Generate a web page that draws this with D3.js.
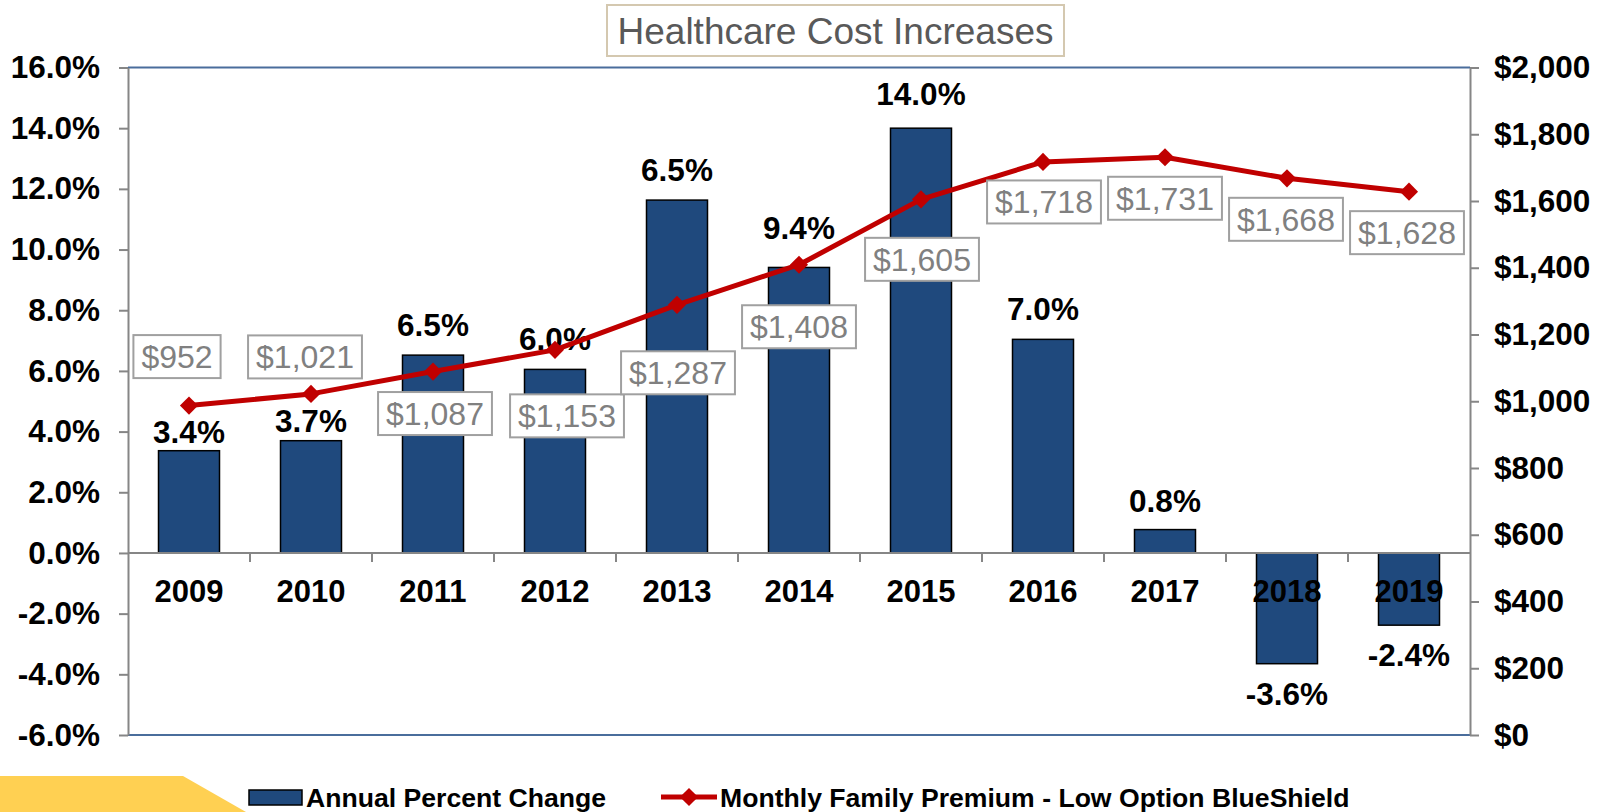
<!DOCTYPE html>
<html>
<head>
<meta charset="utf-8">
<script src="https://cdn.jsdelivr.net/npm/d3@7"></script>
<style>
  body { margin: 0; background: #fff; }
  svg { display: block; font-family: "Liberation Sans", Arial, sans-serif; }
</style>
</head>
<body>
<script>
// data
var years = ["2009", "2010", "2011", "2012", "2013", "2014", "2015", "2016", "2017", "2018", "2019"];
var pctChange = [3.37, 3.7, 6.52, 6.05, 11.63, 9.41, 14.0, 7.04, 0.77, -3.65, -2.38];
var pctLabels = ["3.4%", "3.7%", "6.5%", "6.0%", "6.5%", "9.4%", "14.0%", "7.0%", "0.8%", "-3.6%", "-2.4%"];
var premium = [987, 1022, 1089, 1154, 1289, 1409, 1605, 1717, 1731, 1668, 1628];
var premiumLabels = ["$952", "$1,021", "$1,087", "$1,153", "$1,287", "$1,408", "$1,605", "$1,718", "$1,731", "$1,668", "$1,628"];
var leftTicks = [-6, -4, -2, 0, 2, 4, 6, 8, 10, 12, 14, 16];
var rightTicks = [0, 200, 400, 600, 800, 1000, 1200, 1400, 1600, 1800, 2000];
var titleText = "Healthcare Cost Increases";
var seriesNames = ["Annual Percent Change", "Monthly Family Premium - Low Option BlueShield"];

var W = 1607, H = 812;
var plotLeft = 128, plotRight = 1470, plotTop = 67.5, plotBottom = 735;

var svg = d3.select("body").append("svg")
    .attr("width", W)
    .attr("height", H);

var x = d3.scaleBand()
    .domain(years)
    .range([plotLeft, plotRight])
    .paddingInner(0.5)
    .paddingOuter(0.25);

var yL = d3.scaleLinear().domain([-6, 16]).range([plotBottom, plotTop]);
var yR = d3.scaleLinear().domain([0, 2000]).range([plotBottom, plotTop]);

// yellow corner shape
svg.append("path")
    .attr("d", "M0,776 L183,776 L246,812 L0,812 Z")
    .attr("fill", "#ffd052");

// title box
var tg = svg.append("g");
tg.append("rect")
    .attr("x", 607).attr("y", 5)
    .attr("width", 457).attr("height", 51)
    .attr("fill", "#fff")
    .attr("stroke", "#d4c8b0")
    .attr("stroke-width", 2);
tg.append("text")
    .attr("x", 835.5).attr("y", 44)
    .attr("text-anchor", "middle")
    .attr("font-size", 37)
    .attr("fill", "#595959")
    .text(titleText);

// bars
svg.selectAll(".bar")
    .data(pctChange)
    .enter()
    .append("rect")
    .attr("class", "bar")
    .attr("x", function (d, i) { return x(years[i]); })
    .attr("width", x.bandwidth())
    .attr("y", function (d) { return yL(Math.max(0, d)); })
    .attr("height", function (d) { return Math.abs(yL(d) - yL(0)); })
    .attr("fill", "#1f497d")
    .attr("stroke", "#000")
    .attr("stroke-width", 1.5);

// frame: top / bottom blue lines
svg.append("line")
    .attr("x1", plotLeft).attr("x2", plotRight)
    .attr("y1", plotTop).attr("y2", plotTop)
    .attr("stroke", "#4a6d9c").attr("stroke-width", 2);
svg.append("line")
    .attr("x1", plotLeft).attr("x2", plotRight)
    .attr("y1", plotBottom).attr("y2", plotBottom)
    .attr("stroke", "#4a6d9c").attr("stroke-width", 2);

// left axis
var axL = svg.append("g")
    .attr("transform", "translate(" + plotLeft + ",0)")
    .call(d3.axisLeft(yL)
        .tickValues(leftTicks)
        .tickSize(9)
        .tickSizeOuter(0)
        .tickPadding(19)
        .tickFormat(function (d) { return d.toFixed(1) + "%"; }));

// right axis
var axR = svg.append("g")
    .attr("transform", "translate(" + plotRight + ",0)")
    .call(d3.axisRight(yR)
        .tickValues(rightTicks)
        .tickSize(9)
        .tickSizeOuter(0)
        .tickPadding(15)
        .tickFormat(function (d) { return "$" + d3.format(",")(d); }));

[axL, axR].forEach(function (ax) {
    ax.select(".domain").attr("stroke", "#868686").attr("stroke-width", 2);
    ax.selectAll(".tick line").attr("stroke", "#868686").attr("stroke-width", 2);
    ax.selectAll(".tick text")
        .attr("font-size", 31.5)
        .attr("font-weight", "bold")
        .attr("font-family", "Liberation Sans, Arial, sans-serif")
        .attr("fill", "#000");
});

// zero line with category ticks
var zeroY = yL(0);
svg.append("line")
    .attr("x1", plotLeft).attr("x2", plotRight)
    .attr("y1", zeroY).attr("y2", zeroY)
    .attr("stroke", "#868686").attr("stroke-width", 2);

svg.selectAll(".cattick")
    .data(years.slice(1))
    .enter()
    .append("line")
    .attr("x1", function (d) { return x(d) - x.step() * 0.25; })
    .attr("x2", function (d) { return x(d) - x.step() * 0.25; })
    .attr("y1", zeroY)
    .attr("y2", zeroY + 9)
    .attr("stroke", "#868686").attr("stroke-width", 2);

svg.selectAll(".year")
    .data(years)
    .enter()
    .append("text")
    .attr("x", function (d) { return x(d) + x.bandwidth() / 2; })
    .attr("y", zeroY + 49)
    .attr("text-anchor", "middle")
    .attr("font-size", 31)
    .attr("font-weight", "bold")
    .text(function (d) { return d; });

// bar labels (nudged as in the original)
var barLabelGap = [8, 9, 19, 19, 19, 28, 23, 19, 18, 41, 41];
svg.selectAll(".barlabel")
    .data(pctChange)
    .enter()
    .append("text")
    .attr("x", function (d, i) { return x(years[i]) + x.bandwidth() / 2; })
    .attr("y", function (d, i) {
        return d >= 0 ? yL(d) - barLabelGap[i] : yL(d) + barLabelGap[i];
    })
    .attr("text-anchor", "middle")
    .attr("font-size", 31.5)
    .attr("font-weight", "bold")
    .text(function (d, i) { return pctLabels[i]; });

// premium line
var line = d3.line()
    .x(function (d, i) { return x(years[i]) + x.bandwidth() / 2; })
    .y(function (d) { return yR(d); });

svg.append("path")
    .datum(premium)
    .attr("d", line)
    .attr("fill", "none")
    .attr("stroke", "#c00000")
    .attr("stroke-width", 5)
    .attr("stroke-linejoin", "round");

var diamond = d3.symbol().type(d3.symbolSquare).size(165);
svg.selectAll(".marker")
    .data(premium)
    .enter()
    .append("path")
    .attr("d", diamond)
    .attr("transform", function (d, i) {
        return "translate(" + (x(years[i]) + x.bandwidth() / 2) + "," + yR(d) + ") rotate(45)";
    })
    .attr("fill", "#c00000");

// premium labels in boxes (offsets from marker, as placed in the original)
var boxOffset = [[-12, -49], [-6, -37], [2, 42], [12, 66], [1, 68], [0, 62], [1, 60], [1, 40], [0, 41], [-1, 41], [-2, 41]];
var pl = svg.selectAll(".plabel")
    .data(premium)
    .enter()
    .append("g")
    .attr("transform", function (d, i) {
        var cx = x(years[i]) + x.bandwidth() / 2 + boxOffset[i][0];
        var cy = yR(d) + boxOffset[i][1];
        return "translate(" + cx + "," + cy + ")";
    });
pl.append("text")
    .attr("text-anchor", "middle")
    .attr("y", 11.5)
    .attr("font-size", 32)
    .attr("fill", "#808080")
    .text(function (d, i) { return premiumLabels[i]; });
pl.each(function () {
    var g = d3.select(this);
    var bb = g.select("text").node().getBBox();
    g.insert("rect", "text")
        .attr("x", bb.x - 8)
        .attr("y", -21.5)
        .attr("width", bb.width + 16)
        .attr("height", 43)
        .attr("fill", "#fff")
        .attr("stroke", "#a0a0a0")
        .attr("stroke-width", 2);
});

// legend
var lg = svg.append("g");
lg.append("rect")
    .attr("x", 249).attr("y", 790)
    .attr("width", 53).attr("height", 15)
    .attr("fill", "#1f497d")
    .attr("stroke", "#000")
    .attr("stroke-width", 1.5);
lg.append("text")
    .attr("x", 306).attr("y", 807)
    .attr("font-size", 26.6)
    .attr("font-weight", "bold")
    .text(seriesNames[0]);
lg.append("line")
    .attr("x1", 661).attr("x2", 717)
    .attr("y1", 797).attr("y2", 797)
    .attr("stroke", "#c00000")
    .attr("stroke-width", 5);
lg.append("path")
    .attr("d", diamond)
    .attr("transform", "translate(689,797) rotate(45)")
    .attr("fill", "#c00000");
lg.append("text")
    .attr("x", 720).attr("y", 807)
    .attr("font-size", 26.6)
    .attr("font-weight", "bold")
    .text(seriesNames[1]);
</script>
</body>
</html>
